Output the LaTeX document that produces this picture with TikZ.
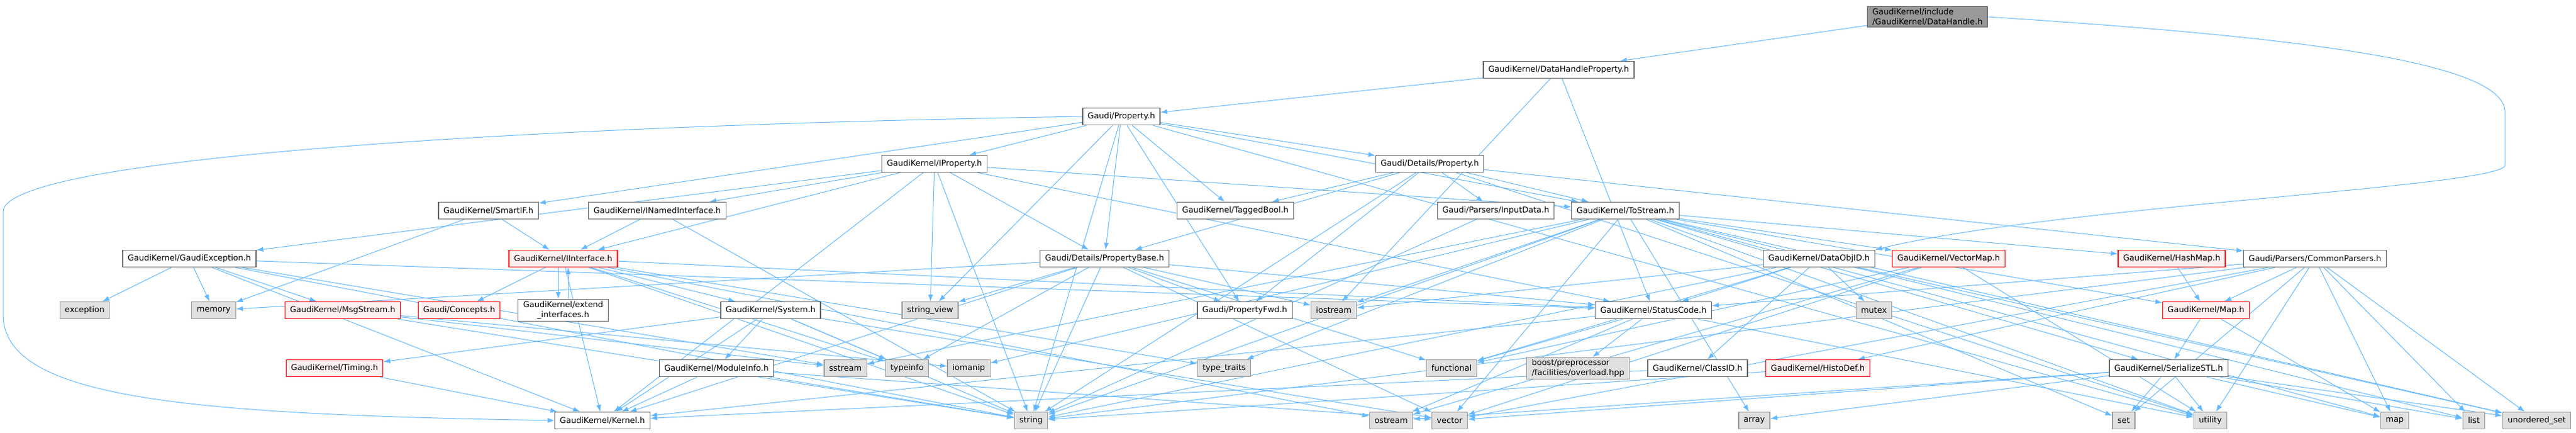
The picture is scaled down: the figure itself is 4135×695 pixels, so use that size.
\documentclass[tikz,border=0pt]{standalone}
\usepackage{fontspec}
\setmainfont{DejaVu Sans}
\usetikzlibrary{arrows.meta,shapes}
\definecolor{edgeblue}{HTML}{63B8FF}
\definecolor{extgray}{HTML}{E0E0E0}
\definecolor{truncred}{HTML}{FFF0F0}
\tikzstyle{file}=[draw=black!60,fill=white,line width=1.3pt,minimum height=27pt,inner xsep=8pt,inner ysep=3pt,font=\fontsize{13}{16}\selectfont]
\tikzstyle{sysfile}=[file,draw=black!40,fill=extgray]
\tikzstyle{trunc}=[file,draw=red,fill=truncred]
\tikzstyle{rootfile}=[file,fill=black!40,align=left]
\tikzstyle{edge}=[draw=edgeblue,line width=1pt,-{Latex[length=11pt,width=8pt]}]
\pgfdeclarelayer{bg}
\pgfsetlayers{bg,main}

\begin{document}
\begin{tikzpicture}[x=1pt,y=-1pt]
    \useasboundingbox (0,0) rectangle (4135,695);
	% draw the headers of the project
	\node[rootfile] (DataHandle) at (3094,27) {GaudiKernel/include\\/GaudiKernel/DataHandle.h};
	\node[file] (DHProperty) at (2502,112) {GaudiKernel/DataHandleProperty.h};
	\node[file] (Property) at (1800,187) {Gaudi/Property.h};
	\node[file] (IProperty) at (1500,263) {GaudiKernel/IProperty.h};
	\node[file] (DetProperty) at (2295,263) {Gaudi/Details/Property.h};
	\node[file] (SmartIF) at (784,338) {GaudiKernel/SmartIF.h};
	\node[file] (INamed) at (1055,338) {GaudiKernel/INamedInterface.h};
	\node[file] (TaggedBool) at (1983,338) {GaudiKernel/TaggedBool.h};
	\node[file] (InputData) at (2401,338) {Gaudi/Parsers/InputData.h};
	\node[file] (ToStream) at (2609,338) {GaudiKernel/ToStream.h};
	\node[file] (GaudiExc) at (304,415) {GaudiKernel/GaudiException.h};
	\node[trunc] (IInterface) at (904,415) {GaudiKernel/IInterface.h};
	\node[file] (PropBase) at (1773,415) {Gaudi/Details/PropertyBase.h};
	\node[file] (DataObjID) at (2920,415) {GaudiKernel/DataObjID.h};
	\node[trunc] (VectorMap) at (3128,415) {GaudiKernel/VectorMap.h};
	\node[trunc] (HashMap) at (3486,415) {GaudiKernel/HashMap.h};
	\node[file] (Parsers) at (3716,415) {Gaudi/Parsers/CommonParsers.h};
	\node[trunc] (MsgStream) at (550,498) {GaudiKernel/MsgStream.h};
	\node[trunc] (Concepts) at (737,498) {Gaudi/Concepts.h};
	\node[file,align=center] (extend) at (904,498) {GaudiKernel/extend\\\_interfaces.h};
	\node[file] (System) at (1237,498) {GaudiKernel/System.h};
	\node[file] (PropFwd) at (1998,498) {Gaudi/PropertyFwd.h};
	\node[file] (StatusCode) at (2654,498) {GaudiKernel/StatusCode.h};
	\node[trunc] (Map) at (3541,498) {GaudiKernel/Map.h};
	\node[trunc] (Timing) at (537,591) {GaudiKernel/Timing.h};
	\node[file] (ModuleInfo) at (1150,591) {GaudiKernel/ModuleInfo.h};
	\node[file] (ClassID) at (2725,591) {GaudiKernel/ClassID.h};
	\node[trunc] (HistoDef) at (2918,591) {GaudiKernel/HistoDef.h};
	\node[file] (SerializeSTL) at (3481,591) {GaudiKernel/SerializeSTL.h};
	\node[file] (Kernel) at (967,675) {GaudiKernel/Kernel.h};
	\node[sysfile,align=left] (boost) at (2533,591) {boost/preprocessor\\/facilities/overload.hpp};
	% draw the system headers
	\foreach \pos/\name/\lbl in {{(136,498)/exception/exception}, {(343,498)/memory/memory},
	                            {(1493,498)/stringview/{string\_view}}, {(2141,498)/iostream/iostream},
	                            {(3008,498)/mutex/mutex}, {(1357,591)/sstream/sstream},
	                            {(1456,591)/typeinfo/typeinfo}, {(1555,591)/iomanip/iomanip},
	                            {(1965,591)/typetraits/{type\_traits}}, {(2330,591)/functional/functional},
	                            {(1655,675)/string/string}, {(2233,675)/ostream/ostream},
	                            {(2327,675)/vector/vector}, {(2816,675)/array/array},
	                            {(3409,675)/set/set}, {(3548,675)/utility/utility},
	                            {(3844,675)/map/map}, {(3971,675)/list/list},
	                            {(4072,675)/unorderedset/{unordered\_set}}}
	    \node[sysfile] (\name) at \pos {\lbl};
	% connect the headers
	\begin{pgfonlayer}{bg}
	\foreach \source/\dest in {DataHandle/DHProperty,
	        DHProperty/Property, DHProperty/StatusCode, DHProperty/iostream,
	        Property/DetProperty, Property/PropBase, Property/PropFwd, Property/IProperty,
	        Property/SmartIF, Property/TaggedBool, Property/ToStream, Property/string,
	        Property/stringview, Property/utility,
	        IProperty/GaudiExc, IProperty/INamed, IProperty/IInterface, IProperty/PropBase,
	        IProperty/StatusCode, IProperty/ToStream, IProperty/stringview, IProperty/string, IProperty/Kernel,
	        DetProperty/Parsers, DetProperty/InputData, DetProperty/ToStream, DetProperty/TaggedBool,
	        DetProperty/PropBase, DetProperty/PropFwd, DetProperty/string, DetProperty/utility,
	        SmartIF/IInterface, SmartIF/memory, INamed/IInterface, INamed/string,
	        GaudiExc/exception, GaudiExc/memory, GaudiExc/MsgStream, GaudiExc/StatusCode,
	        GaudiExc/Kernel, GaudiExc/string, GaudiExc/sstream,
	        IInterface/Concepts, IInterface/System, IInterface/Kernel, IInterface/StatusCode,
	        IInterface/ostream, IInterface/typetraits, IInterface/typeinfo, IInterface/string,
	        MsgStream/iomanip, MsgStream/sstream, MsgStream/string, Timing/Kernel,
	        System/ModuleInfo, System/Kernel, System/Timing, System/string, System/typeinfo, System/vector,
	        ModuleInfo/Kernel, ModuleInfo/string, ModuleInfo/vector,
	        PropBase/memory, PropBase/stringview, PropBase/typeinfo, PropBase/string, PropBase/PropFwd,
	        PropBase/StatusCode, PropBase/iostream, PropBase/functional, PropBase/vector, PropBase/Kernel,
	        InputData/string,
	        ToStream/iostream, ToStream/string, ToStream/vector, ToStream/array, ToStream/set,
	        ToStream/list, ToStream/map, ToStream/unorderedset, ToStream/utility, ToStream/typetraits,
	        ToStream/iomanip, ToStream/sstream, ToStream/HashMap, ToStream/Map, ToStream/SerializeSTL,
	        ToStream/VectorMap,
	        DataObjID/ClassID, DataObjID/StatusCode, DataObjID/iostream, DataObjID/functional,
	        DataObjID/mutex, DataObjID/string, DataObjID/unorderedset,
	        VectorMap/functional, VectorMap/ostream, VectorMap/utility, VectorMap/vector,
	        HashMap/Map,
	        Parsers/StatusCode, Parsers/HistoDef, Parsers/Map, Parsers/utility, Parsers/map,
	        Parsers/list, Parsers/unorderedset, Parsers/string, Parsers/vector, Parsers/set,
	        Map/SerializeSTL, Map/map,
	        SerializeSTL/array, SerializeSTL/list, SerializeSTL/map, SerializeSTL/ostream,
	        SerializeSTL/set, SerializeSTL/unorderedset, SerializeSTL/utility, SerializeSTL/vector,
	        HistoDef/string,
	        StatusCode/Kernel, StatusCode/boost, StatusCode/functional, StatusCode/ostream, StatusCode/utility,
	        ClassID/Kernel}
	    \path[edge] (\source) -- (\dest);

	% the two long detours and the pair of back edges
	\coordinate (rloop) at (4021,180);
	\coordinate (rloopb) at (4021,265);
	\coordinate (lloop) at (5,340);
	\coordinate (lloopb) at (5,505);
	\path[edge] (DataHandle.east) .. controls (3700,60) and (4021,100) .. (rloop) -- (rloopb)
	    .. controls (4021,300) and (3300,330) .. (DataObjID.north east);
	\path[edge] (Property.west) .. controls (900,200) and (5,250) .. (lloop) -- (lloopb)
	    .. controls (5,640) and (300,665) .. (Kernel.west);
	\path[edge] ([xshift=-8pt]IInterface.south) -- ([xshift=-8pt]extend.north);
	\path[edge] ([xshift=8pt]extend.north) -- ([xshift=8pt]IInterface.south);
	\end{pgfonlayer}
\end{tikzpicture}
\end{document}
